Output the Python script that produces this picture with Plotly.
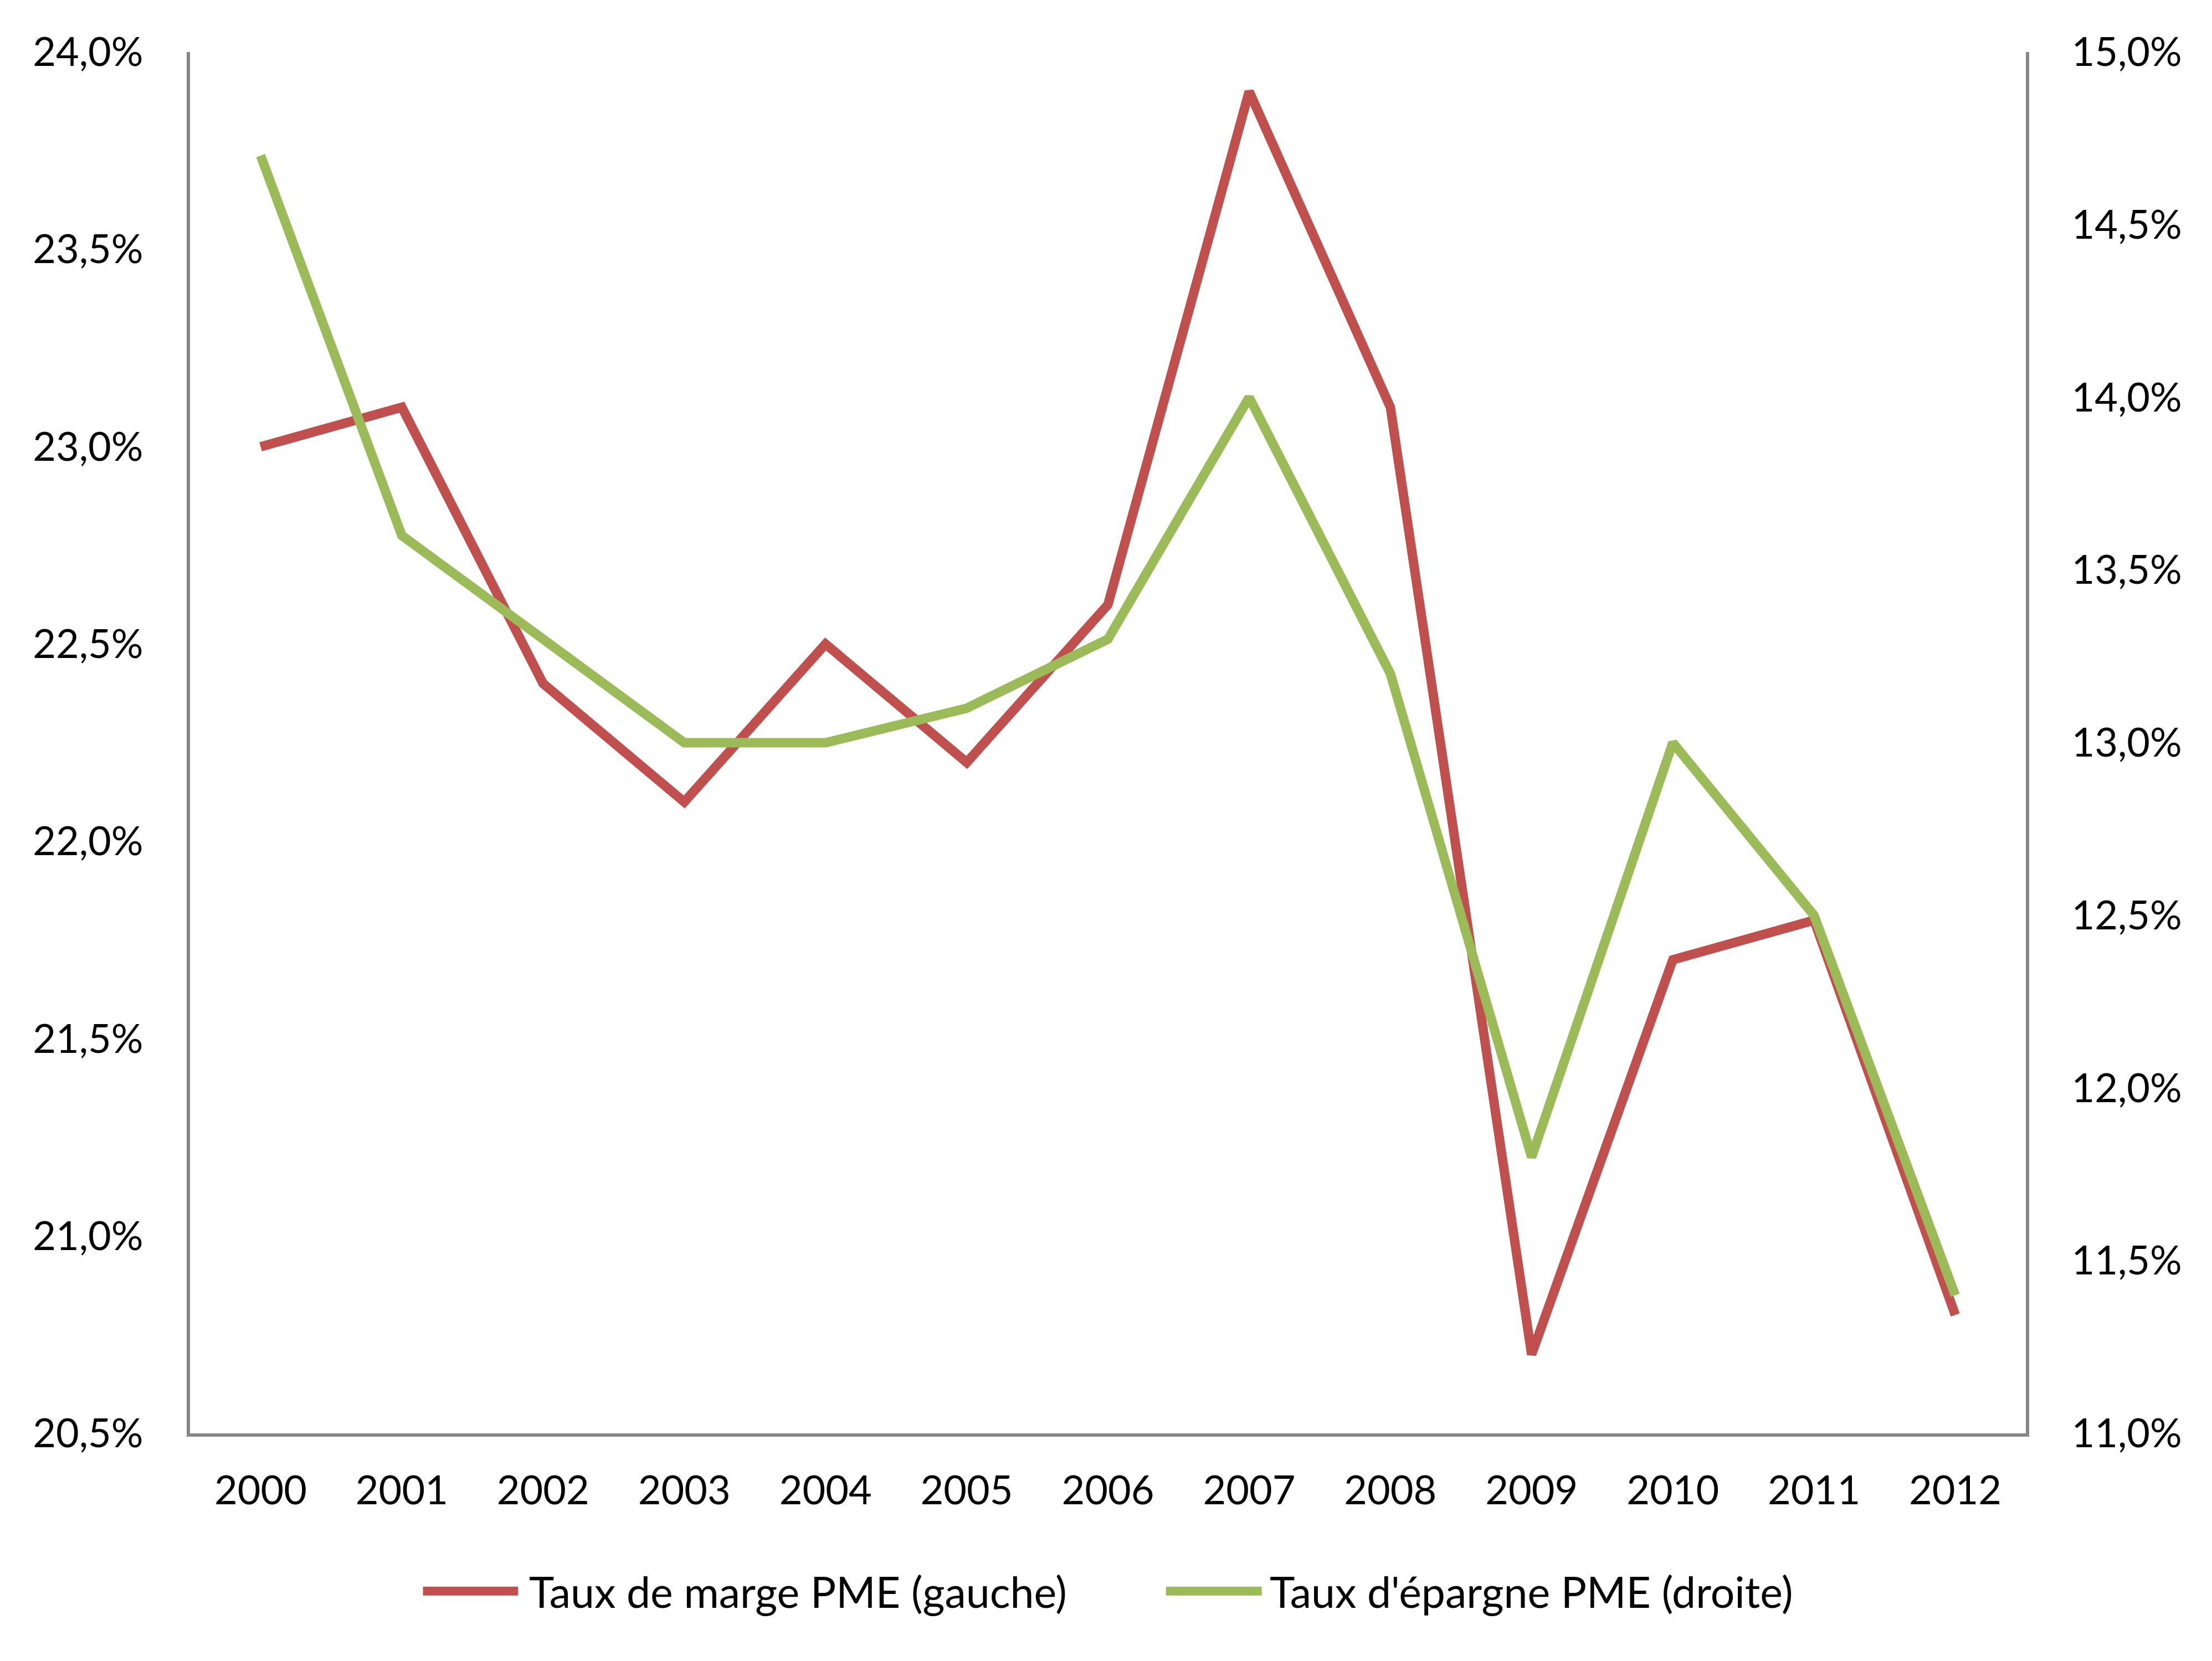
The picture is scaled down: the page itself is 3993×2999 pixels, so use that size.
import plotly.graph_objects as go

years = ["2000", "2001", "2002", "2003", "2004", "2005", "2006",
         "2007", "2008", "2009", "2010", "2011", "2012"]
taux_marge = [23.0, 23.1, 22.4, 22.1, 22.5, 22.2, 22.6, 23.9, 23.1, 20.7, 21.7, 21.8, 20.8]
taux_epargne = [14.7, 13.6, 13.3, 13.0, 13.0, 13.1, 13.3, 14.0, 13.2, 11.8, 13.0, 12.5, 11.4]
name_marge = "Taux de marge PME (gauche)"
name_epargne = "Taux d'épargne PME (droite)"
left_ticks = [20.5, 21.0, 21.5, 22.0, 22.5, 23.0, 23.5, 24.0]
right_ticks = [11.0, 11.5, 12.0, 12.5, 13.0, 13.5, 14.0, 14.5, 15.0]


def fmt(v):
    return f"{v:.1f}".replace(".", ",") + "%"


RED = "#C0504D"
GREEN = "#9BBB59"
AXIS = "#868686"
FONT = "Lato"
FS = 76
TFS = 72

fig = go.Figure()
fig.add_trace(go.Scatter(x=years, y=taux_marge, name=name_marge, mode="lines",
                         line=dict(color=RED, width=17), yaxis="y"))
fig.add_trace(go.Scatter(x=years, y=taux_epargne, name=name_epargne, mode="lines",
                         line=dict(color=GREEN, width=17), yaxis="y2"))

fig.update_layout(
    width=3985, height=2991,
    paper_bgcolor="white", plot_bgcolor="white",
    margin=dict(l=335, r=336, t=86, b=411),
    showlegend=False,
    font=dict(family=FONT, size=FS, color="black"),
    xaxis=dict(type="category", range=[-0.5, len(years) - 0.5],
               showline=True, linecolor=AXIS, linewidth=6, showgrid=False,
               ticks="", ticklabelstandoff=36, zeroline=False,
               tickfont=dict(size=TFS)),
    yaxis=dict(range=[20.5, 24.0], tickvals=left_ticks, ticktext=[fmt(v) for v in left_ticks],
               showline=True, linecolor=AXIS, linewidth=6, showgrid=False,
               ticks="", ticklabelstandoff=64, zeroline=False,
               tickfont=dict(size=TFS)),
    yaxis2=dict(range=[11.0, 15.0], tickvals=right_ticks, ticktext=[fmt(v) for v in right_ticks],
                overlaying="y", side="right",
                showline=True, linecolor=AXIS, linewidth=6, showgrid=False,
                ticks="", ticklabelstandoff=62, zeroline=False,
                tickfont=dict(size=TFS)),
)

# custom legend (long line swatches as in the original)
legend_items = [(name_marge, RED, 0.1269, 0.1787, 0.1841),
                (name_epargne, GREEN, 0.5316, 0.5838, 0.5874)]
ly = -0.1142
for label, col, x0, x1, xt in legend_items:
    fig.add_shape(type="line", xref="paper", yref="paper", x0=x0, x1=x1, y0=ly, y1=ly,
                  line=dict(color=col, width=16))
    fig.add_annotation(xref="paper", yref="paper", x=xt, y=ly, text=label,
                       showarrow=False, xanchor="left", yanchor="middle",
                       font=dict(family=FONT, size=FS + 1, color="black"))

fig.write_html("out.html")
